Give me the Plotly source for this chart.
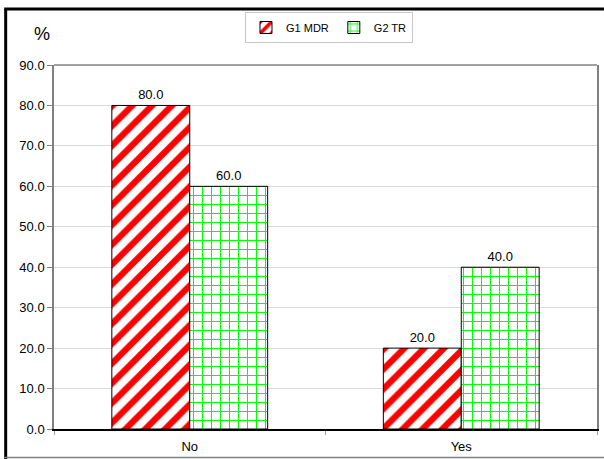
import plotly.graph_objects as go

categories = ["No", "Yes"]
g1_mdr = [80.0, 20.0]
g2_tr = [60.0, 40.0]
series_names = ["G1 MDR", "G2 TR"]
y_ticks = [0, 10, 20, 30, 40, 50, 60, 70, 80, 90]

W, H = 604, 459
L, R, T, B = 54, 5, 65, 30
pw, ph = W - L - R, H - T - B


def px_x(px):
    return (px - L) / pw


def px_y(py):
    return (H - B - py) / ph


FAMILY = "Liberation Sans, Arial, sans-serif"
font = dict(family=FAMILY, size=13, color="black")

fig = go.Figure()
fig.add_trace(go.Bar(
    x=categories, y=g1_mdr, name=series_names[0],
    marker=dict(color="white", line=dict(color="black", width=1),
                pattern=dict(shape="/", fgcolor="#FF0000", bgcolor="white",
                             fgopacity=1, size=14, solidity=0.45)),
    texttemplate="%{y:.1f}", textposition="outside", textfont=font,
    cliponaxis=False,
))
fig.add_trace(go.Bar(
    x=categories, y=g2_tr, name=series_names[1],
    marker=dict(color="white", line=dict(color="black", width=1),
                pattern=dict(shape="+", fgcolor="#00FF00", bgcolor="white",
                             fgopacity=1, size=9, solidity=0.22)),
    texttemplate="%{y:.1f}", textposition="outside", textfont=font,
    cliponaxis=False,
))

shapes = [
    # plot-area top edge
    dict(type="line", xref="paper", yref="paper", x0=0, x1=1, y0=1, y1=1,
         line=dict(color="#808080", width=1.5)),
    # outer frame: left, top (black) and bottom (grey)
    dict(type="line", xref="paper", yref="paper",
         x0=px_x(5.5), x1=px_x(5.5), y0=px_y(9), y1=px_y(459),
         line=dict(color="black", width=3)),
    dict(type="line", xref="paper", yref="paper",
         x0=px_x(4), x1=px_x(606), y0=px_y(9), y1=px_y(9),
         line=dict(color="black", width=3)),
    dict(type="line", xref="paper", yref="paper",
         x0=px_x(4), x1=px_x(606), y0=px_y(457.5), y1=px_y(457.5),
         line=dict(color="#808080", width=1.5)),
]

fig.update_layout(
    width=W, height=H,
    margin=dict(l=L, r=R, t=T, b=B),
    paper_bgcolor="white", plot_bgcolor="white",
    font=font,
    barmode="group", bargap=0.426, bargroupgap=0,
    showlegend=True,
    legend=dict(orientation="h", x=px_x(330), xanchor="center",
                y=px_y(12), yanchor="top",
                bordercolor="#C8C8C8", borderwidth=1, bgcolor="white",
                font=dict(family=FAMILY, size=11),
                itemwidth=30, tracegroupgap=0),
    xaxis=dict(showline=True, linecolor="black", linewidth=1.5,
               ticks="outside", tickson="boundaries", tickcolor="#A0A0A0",
               ticklen=4, showgrid=False, tickfont=font,
               ticklabelstandoff=5),
    yaxis=dict(range=[0, 90], tickvals=y_ticks, tickformat=".1f",
               showline=True, linecolor="#808080", linewidth=1.5, mirror=True,
               ticks="outside", tickcolor="#808080", ticklen=5,
               showgrid=True, gridcolor="#D9D9D9", gridwidth=1,
               zeroline=False, tickfont=font),
    shapes=shapes,
    annotations=[dict(text="%", xref="paper", yref="paper",
                      x=px_x(32), y=px_y(22), showarrow=False,
                      font=dict(family=FAMILY, size=18, color="black"))],
)

fig.write_html("out.html")
